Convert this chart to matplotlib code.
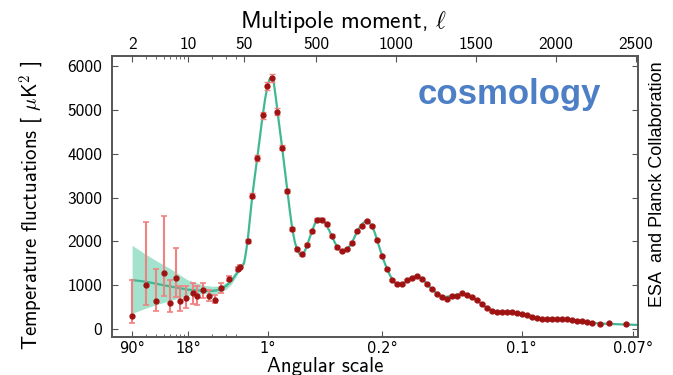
import numpy as np
import matplotlib
matplotlib.use("Agg")
import matplotlib.pyplot as plt

# low multipoles (log part of the axis), asymmetric error bars
ell_low = [2, 3, 4, 5, 6, 7, 8, 9.5, 11.5, 13, 15.5, 18.5, 22, 26, 32.5, 41.5, 44.5]
D_low = [300, 1005, 645, 1285, 600, 1160, 645, 710, 830, 760, 890, 755, 675, 935, 1150, 1370, 1420]
err_low_minus = [170, 450, 230, 520, 220, 420, 240, 230, 260, 200, 180, 120, 80, 100, 60, 40, 40]
err_low_plus = [810, 1445, 715, 1290, 520, 700, 340, 270, 215, 230, 160, 140, 100, 110, 60, 40, 40]

# binned high multipoles
ell_high = [73, 102, 133, 167, 196, 227, 258, 289, 321, 352,
            383, 414, 446, 477, 508, 539, 570, 601, 633, 664,
            696, 727, 758, 789, 821, 852, 883, 914, 946, 977,
            1008, 1039, 1071, 1102, 1133, 1164, 1196, 1227, 1258, 1289,
            1321, 1352, 1383, 1414, 1446, 1477, 1508, 1539, 1571, 1602,
            1633, 1664, 1696, 1727, 1758, 1789, 1821, 1848, 1879, 1911,
            1942, 1973, 2004, 2036, 2067, 2098, 2129, 2161, 2192, 2223,
            2275, 2333, 2436]
D_high = [2015, 3040, 3910, 4880, 5540, 5720, 4960, 4140, 3150, 2280,
          1825, 1705, 1930, 2235, 2500, 2490, 2390, 2130, 1865, 1785,
          1825, 1970, 2235, 2360, 2465, 2350, 2030, 1670, 1370, 1120,
          1020, 1025, 1120, 1175, 1210, 1135, 1030, 905, 800, 740,
          685, 755, 760, 815, 775, 725, 660, 565, 485, 420,
          395, 390, 388, 380, 372, 345, 320, 285, 260, 238,
          230, 236, 228, 222, 220, 205, 190, 182, 160, 145,
          108, 130, 114]
err_high = [50, 60, 70, 80, 90, 90, 80, 60, 50, 40,
            35, 35, 35, 35, 35, 35, 35, 30, 30, 30,
            30, 30, 30, 30, 30, 30, 30, 25, 25, 25,
            25, 25, 25, 25, 25, 25, 25, 20, 20, 20,
            20, 20, 20, 20, 20, 20, 20, 20, 20, 20,
            20, 20, 20, 20, 20, 20, 20, 20, 20, 20,
            20, 20, 20, 20, 20, 20, 20, 20, 20, 20,
            20, 20, 20]

# best fit model curve
theory_ell = [2, 3, 5, 7, 10, 14, 20, 25, 30, 35, 40, 45, 50, 60, 73, 85, 102, 118, 133, 150,
              167, 182, 196, 210, 222, 235, 250, 265, 289, 305, 321, 337, 352, 368, 383, 400,
              414, 430, 446, 462, 477, 492, 508, 522, 536, 550, 562, 580, 600, 617, 633, 650,
              664, 680, 696, 711, 727, 742, 758, 774, 789, 805, 821, 836, 852, 867, 883, 898,
              914, 930, 946, 962, 977, 993, 1008, 1024, 1039, 1055, 1071, 1086, 1102, 1117,
              1133, 1148, 1164, 1180, 1196, 1211, 1227, 1243, 1258, 1274, 1289, 1305, 1321,
              1336, 1352, 1368, 1383, 1400, 1414, 1430, 1446, 1461, 1477, 1492, 1508, 1524,
              1539, 1555, 1571, 1586, 1602, 1618, 1633, 1650, 1664, 1680, 1696, 1711, 1727,
              1742, 1758, 1789, 1821, 1848, 1879, 1911, 1942, 1973, 2004, 2036, 2067, 2098,
              2129, 2161, 2192, 2223, 2275, 2333, 2436, 2512]
theory_D = [1120, 1080, 1000, 950, 900, 880, 870, 900, 990, 1110, 1260, 1400, 1500, 1700, 2015,
            2450, 3040, 3500, 3910, 4400, 4880, 5250, 5540, 5700, 5750, 5650, 5250, 4800, 4120,
            3640, 3150, 2680, 2280, 1980, 1800, 1700, 1690, 1780, 1930, 2100, 2250, 2400, 2490,
            2530, 2510, 2460, 2400, 2270, 2120, 1980, 1870, 1800, 1780, 1790, 1830, 1900, 1990,
            2110, 2230, 2330, 2400, 2450, 2460, 2420, 2340, 2200, 2020, 1840, 1660, 1500, 1360,
            1230, 1130, 1060, 1030, 1020, 1035, 1070, 1115, 1155, 1185, 1200, 1200, 1180, 1140,
            1085, 1025, 960, 900, 850, 805, 770, 745, 735, 740, 750, 765, 780, 790, 795, 795,
            785, 765, 740, 715, 685, 650, 605, 560, 520, 485, 455, 430, 410, 395, 390, 388, 388,
            385, 383, 378, 372, 365, 345, 318, 290, 262, 242, 232, 230, 227, 222, 216, 205, 192,
            178, 162, 148, 128, 118, 105, 95]

# cosmic variance band at low multipoles
band_ell = [2, 3, 4, 5, 6, 8, 10, 13, 16, 20, 25, 30, 35, 40, 45, 50]
band_hi = [1910, 1700, 1560, 1460, 1380, 1230, 1120, 1050, 1000, 975, 990, 1060, 1170, 1320, 1460, 1580]
band_lo = [360, 480, 560, 610, 650, 720, 770, 800, 810, 800, 830, 910, 1030, 1200, 1370, 1460]

ell_ticks = [2, 10, 50, 500, 1000, 1500, 2000, 2500]
ell_minor = [3, 4, 5, 6, 7, 8, 9, 20, 30, 40]
angle_ticks = [2, 10, 200, 915, 1785, 2480]
angle_labels = ['90°', '18°', '1°', '0.2°', '0.1°', '0.07°']
y_ticks = [0, 1000, 2000, 3000, 4000, 5000, 6000]


# log below l=50, linear above
def fwd(l):
    l = np.asarray(l, dtype=float)
    return np.where(l < 50, 50 + 500 * np.log10(np.clip(l, 1e-3, None) / 50), l)


def inv(x):
    x = np.asarray(x, dtype=float)
    return np.where(x < 50, 50 * 10 ** ((np.minimum(x, 50) - 50) / 500), x)


plt.rcParams['font.family'] = ['cmss10', 'DejaVu Sans']
plt.rcParams['mathtext.fontset'] = 'cm'
plt.rcParams['axes.unicode_minus'] = False

spine_col = '#555555'
line_col = '#3fb893'
band_col = '#a3e2cc'
err_col = '#f08282'
pt_col = '#a01212'

fig = plt.figure(figsize=(6.73, 3.75), dpi=100)
ax = fig.add_axes([0.1664, 0.1013, 0.7816, 0.7494])
ax.set_xscale('function', functions=(fwd, inv))
ax.set_xlim(1.12, 2512)
ax.set_ylim(-180, 6230)

ax.fill_between(band_ell, band_lo, band_hi, color=band_col, lw=0, zorder=1)
ax.plot(theory_ell, theory_D, color=line_col, lw=1.6, zorder=2)
ax.errorbar(ell_low, D_low, yerr=[err_low_minus, err_low_plus], fmt='none',
            ecolor=err_col, elinewidth=1.5, capsize=2.5, capthick=1.2, zorder=3)
ax.errorbar(ell_high, D_high, yerr=err_high, fmt='none',
            ecolor=err_col, elinewidth=1.0, capsize=2, capthick=1.0, zorder=3)
ax.plot(ell_low, D_low, 'o', color=pt_col, ms=3.5, zorder=4)
ax.plot(ell_high, D_high, 'o', color=pt_col, ms=3.5, zorder=4)

ax.set_yticks(y_ticks)
ax.set_xticks(angle_ticks)
ax.set_xticklabels(angle_labels, family='DejaVu Sans')
ax.set_xticks(ell_minor, minor=True)
ax.tick_params(axis='both', which='major', direction='in', length=4, width=0.8,
               color=spine_col, labelsize=12.5, right=True)
ax.tick_params(axis='x', which='major', pad=3, labelsize=10.5)
ax.tick_params(axis='y', which='major', pad=7)
ax.tick_params(axis='x', which='minor', direction='in', length=2.5, width=0.6, color=spine_col)
ax.set_xlabel('Angular scale', fontsize=15)
ax.xaxis.set_label_coords(0.405, -0.072)
ax.set_ylabel(r'Temperature fluctuations [ $\mu\mathsf{K}^2$ ]', fontsize=15)
ax.yaxis.set_label_coords(-0.125, 0.47)

top = ax.twiny()
top.set_xscale('function', functions=(fwd, inv))
top.set_xlim(ax.get_xlim())
top.set_xticks(ell_ticks)
top.set_xticklabels([str(t) for t in ell_ticks])
top.set_xticks(ell_minor, minor=True)
top.tick_params(axis='x', which='major', direction='in', length=4, width=0.8,
                color=spine_col, labelsize=12.5, pad=3)
top.tick_params(axis='x', which='minor', direction='in', length=2.5, width=0.6, color=spine_col)
top.set_xlabel(r'Multipole moment, $\ell$', fontsize=17)
top.xaxis.set_label_coords(0.44, 1.10)

for a in (ax, top):
    for s in a.spines.values():
        s.set_color(spine_col)
        s.set_linewidth(1.2)

fig.text(0.757, 0.748, 'cosmology', fontsize=25, fontweight='bold', color='#4d7fc6',
         family='Liberation Sans', ha='center', va='center')
fig.text(0.977, 0.51, 'ESA  and Planck Collaboration', fontsize=13, family='Liberation Sans',
         rotation=90, ha='center', va='center', color='black')

fig.savefig('out.png', dpi=100)
